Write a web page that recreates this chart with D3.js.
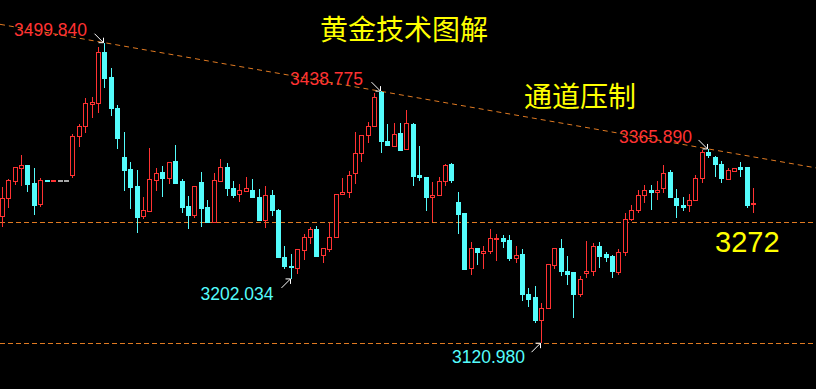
<!DOCTYPE html>
<html>
<head>
<meta charset="utf-8">
<script src="https://cdn.jsdelivr.net/npm/d3@7"></script>
<style>
  html, body { margin: 0; padding: 0; background: #000; }
  svg { display: block; }
</style>
</head>
<body>
<script>
(function () {
  'use strict'

  // Chart size
  var w = 816
  var h = 389

  // OHLC, one entry per candle, left to right
  var opens = [3280.5, 3303.7, 3324.6, 3341.5, 3344.4, 3321.7, 3296.1, 3326.4, 3324.6, 3326.4,
    3326.4, 3332.2, 3381.4, 3394.0, 3421.7, 3423.5, 3488.1, 3455.4, 3417.5, 3354.9,
    3339.4, 3318.3, 3280.5, 3286.8, 3325.9, 3336.0, 3328.4, 3349.5, 3324.6, 3293.1,
    3281.4, 3323.0, 3291.5, 3272.9, 3324.6, 3343.1, 3315.4, 3308.7, 3312.0, 3312.9,
    3305.3, 3275.1, 3307.8, 3288.9, 3229.3, 3218.0, 3214.9, 3237.6, 3254.0, 3264.6,
    3231.3, 3238.5, 3254.0, 3308.2, 3310.7, 3335.2, 3360.4, 3382.6, 3394.5, 3437.0,
    3374.7, 3368.7, 3384.8, 3365.5, 3396.1, 3331.8, 3330.5, 3304.9, 3307.0, 3325.1,
    3345.7, 3297.8, 3283.9, 3214.9, 3239.8, 3234.3, 3236.4, 3252.8, 3253.6, 3249.9,
    3227.5, 3232.2, 3183.0, 3178.0, 3149.4, 3165.0, 3218.7, 3239.8, 3212.0, 3209.5,
    3182.1, 3208.6, 3211.6, 3242.3, 3232.2, 3229.7, 3209.9, 3235.6, 3277.2, 3288.9,
    3307.0, 3314.1, 3311.3, 3315.4, 3336.0, 3303.7, 3295.2, 3294.3, 3300.7, 3328.0,
    3361.7, 3355.4, 3346.9, 3326.8, 3337.2, 3343.1, 3341.9, 3296.5]
  var highs = [3318.3, 3328.0, 3343.5, 3358.3, 3345.7, 3342.3, 3328.9, 3326.4, 3326.2, 3326.4,
    3326.4, 3384.4, 3397.0, 3429.8, 3431.8, 3494.8, 3499.84, 3468.3, 3421.3, 3387.7,
    3349.8, 3339.4, 3305.7, 3367.5, 3342.3, 3344.8, 3349.8, 3370.9, 3328.0, 3307.0,
    3318.8, 3336.8, 3301.5, 3336.0, 3353.2, 3348.6, 3325.5, 3321.7, 3330.5, 3328.0,
    3315.4, 3319.2, 3314.1, 3290.2, 3243.5, 3233.5, 3239.4, 3258.7, 3267.9, 3268.8,
    3240.6, 3272.2, 3308.7, 3329.7, 3338.1, 3387.7, 3383.1, 3399.9, 3436.1, 3438.775,
    3397.4, 3399.0, 3399.0, 3415.0, 3399.0, 3369.6, 3330.5, 3324.2, 3330.9, 3346.9,
    3348.2, 3311.6, 3283.9, 3248.6, 3239.8, 3243.5, 3265.0, 3258.7, 3257.4, 3257.4,
    3243.5, 3239.8, 3190.6, 3193.1, 3171.3, 3219.6, 3241.4, 3252.4, 3230.9, 3210.8,
    3205.7, 3249.9, 3247.0, 3248.6, 3236.0, 3232.2, 3239.8, 3284.8, 3295.2, 3314.1,
    3320.5, 3320.5, 3325.5, 3345.7, 3339.4, 3315.0, 3304.9, 3309.1, 3333.1, 3364.6,
    3365.89, 3357.0, 3351.1, 3342.3, 3341.5, 3349.5, 3341.9, 3316.3]
  var lows = [3267.9, 3291.8, 3320.5, 3319.6, 3312.0, 3282.6, 3293.1, 3324.6, 3324.6, 3326.4,
    3326.4, 3328.9, 3368.7, 3386.4, 3405.3, 3411.6, 3442.4, 3407.5, 3365.8, 3312.9,
    3290.2, 3259.9, 3277.2, 3286.8, 3313.3, 3305.7, 3321.7, 3322.1, 3285.5, 3264.6,
    3279.2, 3267.9, 3272.9, 3272.9, 3324.6, 3307.0, 3304.1, 3299.0, 3312.0, 3304.1,
    3275.4, 3266.6, 3281.4, 3228.8, 3214.9, 3202.034, 3207.9, 3225.9, 3245.7, 3230.9,
    3222.5, 3236.4, 3254.0, 3308.2, 3304.4, 3322.1, 3349.8, 3373.0, 3394.5, 3360.4,
    3370.0, 3368.7, 3363.7, 3365.5, 3319.6, 3325.5, 3288.0, 3274.2, 3307.0, 3319.2,
    3322.6, 3258.7, 3213.3, 3207.0, 3219.6, 3214.9, 3233.1, 3224.6, 3241.4, 3225.0,
    3221.7, 3174.6, 3167.0, 3146.8, 3120.98, 3165.0, 3214.5, 3206.1, 3194.4, 3153.1,
    3179.2, 3203.6, 3206.1, 3216.2, 3223.8, 3203.6, 3207.4, 3231.3, 3274.7, 3284.8,
    3298.1, 3288.9, 3301.5, 3310.7, 3304.4, 3279.2, 3288.0, 3286.8, 3300.7, 3323.4,
    3354.9, 3330.9, 3323.4, 3326.8, 3337.2, 3330.9, 3291.8, 3284.8]
  var closes = [3303.7, 3325.5, 3342.8, 3344.4, 3320.5, 3295.2, 3326.4, 3324.6, 3326.2, 3326.4,
    3326.4, 3382.2, 3394.8, 3422.6, 3424.2, 3488.1, 3454.1, 3416.3, 3378.5, 3338.5,
    3317.1, 3279.2, 3287.7, 3326.8, 3335.2, 3328.0, 3348.6, 3322.1, 3291.8, 3281.4,
    3318.8, 3290.2, 3272.9, 3325.5, 3342.8, 3315.4, 3307.8, 3312.9, 3316.3, 3304.1,
    3275.4, 3307.8, 3288.0, 3228.8, 3217.1, 3216.2, 3238.5, 3254.5, 3264.6, 3230.9,
    3240.6, 3254.5, 3308.7, 3311.3, 3332.7, 3360.4, 3383.1, 3394.5, 3431.0, 3375.0,
    3370.0, 3384.4, 3363.7, 3397.4, 3330.9, 3329.7, 3304.4, 3307.5, 3325.1, 3344.4,
    3325.9, 3283.0, 3213.3, 3239.8, 3235.1, 3236.9, 3253.6, 3253.6, 3248.6, 3227.2,
    3231.8, 3182.1, 3175.8, 3149.0, 3165.0, 3219.6, 3239.8, 3210.8, 3208.2, 3182.1,
    3201.9, 3211.6, 3242.3, 3230.1, 3228.8, 3211.1, 3235.6, 3277.2, 3288.6, 3307.5,
    3314.1, 3310.7, 3314.1, 3335.2, 3304.4, 3294.3, 3292.3, 3300.7, 3328.9, 3361.7,
    3357.4, 3346.9, 3328.0, 3338.1, 3341.5, 3340.6, 3295.2, 3297.4]

  // Marked turning points: candle index of each labelled high and low
  var peakIdx = [16, 59, 110]
  var troughIdx = [45, 84]

  // Horizontal levels and the price tag on the right
  var levels = [3274, 3120.98]
  var priceTag = '3272'

  // Titles
  var title = '黄金技术图解'
  var subtitle = '通道压制'

  var up = '#ff3232'
  var down = '#54fcfc'
  var flat = '#a8a8a8'
  var dash = '#e07a22'
  var numFont = '17.5px "Liberation Sans", Arial, sans-serif'

  var dataset = opens.map(function (o, i) {
    return { i: i, o: o, h: highs[i], l: lows[i], c: closes[i] }
  })

  // Scales
  var x = d3.scaleLinear()
    .domain([0, dataset.length - 1])
    .range([1.7, 753.3])
  var y = d3.scaleLinear()
    .domain([3120.98, 3499.84])
    .range([343.2, 42.7])

  var svg = d3.select('body').append('svg')
    .attr('width', w)
    .attr('height', h)
    .style('background', '#000')

  // Horizontal dashed levels
  svg.selectAll('line.level')
    .data(levels)
    .enter().append('line')
      .attr('class', 'level')
      .attr('x1', 0)
      .attr('x2', w)
      .attr('y1', function (d) { return Math.round(y(d)) + 0.5 })
      .attr('y2', function (d) { return Math.round(y(d)) + 0.5 })
      .attr('stroke', dash)
      .attr('stroke-dasharray', '5,3')

  // Descending channel line through the first and last marked highs
  var a = dataset[peakIdx[0]]
  var b = dataset[peakIdx[2]]
  var slope = (b.h - a.h) / (b.i - a.i)
  var i0 = x.invert(0)
  var i1 = x.invert(w)
  svg.append('line')
    .attr('x1', 0)
    .attr('y1', y(a.h + slope * (i0 - a.i)))
    .attr('x2', w)
    .attr('y2', y(a.h + slope * (i1 - a.i)))
    .attr('stroke', dash)
    .attr('stroke-dasharray', '5,4')

  function colour (d) {
    if (d.c > d.o) return up
    if (d.c < d.o) return down
    return flat
  }

  // Candles
  var candles = svg.append('g')
    .attr('shape-rendering', 'crispEdges')
    .selectAll('g')
    .data(dataset)
    .enter().append('g')

  candles.append('line')
    .attr('x1', function (d) { return Math.round(x(d.i)) + 0.5 })
    .attr('x2', function (d) { return Math.round(x(d.i)) + 0.5 })
    .attr('y1', function (d) { return y(d.h) })
    .attr('y2', function (d) { return y(d.l) })
    .attr('stroke', colour)

  candles.append('rect')
    .attr('x', function (d) { return Math.round(x(d.i)) - 1.5 })
    .attr('width', 4)
    .attr('y', function (d) { return y(Math.max(d.o, d.c)) })
    .attr('height', function (d) { return Math.max(1, y(Math.min(d.o, d.c)) - y(Math.max(d.o, d.c))) })
    .attr('fill', function (d) { return d.c > d.o ? '#000' : colour(d) })
    .attr('stroke', colour)

  // Price notes with small white arrows
  function arrow (tx, ty, dy) {
    var g = svg.append('g').attr('stroke', '#fff')
    g.append('line')
      .attr('x1', tx - 9).attr('y1', ty - 9 * dy)
      .attr('x2', tx).attr('y2', ty)
    g.append('path')
      .attr('fill', 'none')
      .attr('d', 'M' + (tx - 5) + ',' + ty + 'L' + tx + ',' + ty + 'L' + tx + ',' + (ty - 5 * dy))
  }

  var peakText = [[14, 36], [290, 85], [619, 142.5]]
  peakIdx.forEach(function (k, n) {
    var d = dataset[k]
    arrow(Math.round(x(d.i)) - 0.5, y(d.h), 1)
    svg.append('text')
      .attr('x', peakText[n][0])
      .attr('y', peakText[n][1])
      .attr('fill', up)
      .style('font', numFont)
      .text(d.h.toFixed(3))
  })

  var troughText = [[200.5, 300], [452, 363]]
  troughIdx.forEach(function (k, n) {
    var d = dataset[k]
    arrow(Math.round(x(d.i)) - 0.5, y(d.l), -1)
    svg.append('text')
      .attr('x', troughText[n][0])
      .attr('y', troughText[n][1])
      .attr('fill', down)
      .style('font', numFont)
      .text(d.l.toFixed(3))
  })

  svg.append('text')
    .attr('x', 715)
    .attr('y', 252)
    .attr('fill', '#ffff00')
    .style('font', '29px "Liberation Sans", Arial, sans-serif')
    .text(priceTag)

  svg.append('text')
    .attr('x', 320)
    .attr('y', 40)
    .attr('fill', '#ffff00')
    .style('font', '28px "Noto Sans CJK SC", sans-serif')
    .text(title)

  svg.append('text')
    .attr('x', 524)
    .attr('y', 107)
    .attr('fill', '#ffff00')
    .style('font', '28px "Noto Sans CJK SC", sans-serif')
    .text(subtitle)
}())
</script>
</body>
</html>
